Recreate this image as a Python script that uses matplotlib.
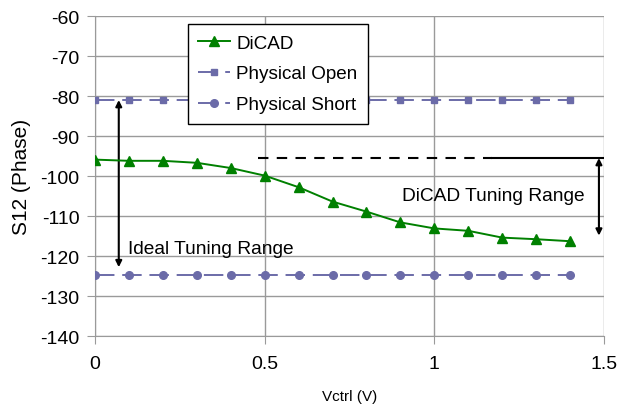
import matplotlib.pyplot as plt
import numpy as np

plt.rcParams['font.family'] = ['Liberation Sans', 'DejaVu Sans']
plt.rcParams['axes.unicode_minus'] = False

vctrl = [0, 0.1, 0.2, 0.3, 0.4, 0.5, 0.6, 0.7, 0.8, 0.9, 1.0, 1.1, 1.2, 1.3, 1.4]
dicad = [-95.9, -96.2, -96.2, -96.7, -98.0, -99.9, -102.8, -106.4,
         -108.9, -111.6, -113.1, -113.7, -115.4, -115.8, -116.3]
phys_open = [-81.0] * 15
phys_short = [-124.7] * 15

dicad_top = -95.5
dicad_bottom = -114.9
ideal_top = -81.0
ideal_bottom = -122.8

green = '#008000'
purple = '#6b6ba8'
grid = '#9a9a9a'

fig = plt.figure(figsize=(6.19, 4.10), dpi=100)
ax = fig.add_axes([0.1535, 0.178, 0.8223, 0.7805])

ax.plot(vctrl, dicad, color=green, lw=1.4, marker='^', ms=6.5, label='DiCAD', zorder=4)
ax.plot(vctrl, phys_open, color=purple, lw=1.4, ls=(0, (10, 4)), marker='s', ms=4,
        label='Physical Open', zorder=3)
ax.plot(vctrl, phys_short, color=purple, lw=1.4, ls=(0, (10, 4)), marker='o', ms=5.5,
        label='Physical Short', zorder=3)

# tuning range markers
ax.plot([0.48, 1.17], [dicad_top, dicad_top], color='black', lw=1.5, ls=(0, (5, 4)))
ax.plot([1.17, 1.5], [dicad_top, dicad_top], color='black', lw=1.5)
ax.annotate('', xy=(1.485, dicad_bottom), xytext=(1.485, dicad_top),
            arrowprops=dict(arrowstyle='<|-|>', color='black', lw=1.5,
                            mutation_scale=9, shrinkA=0, shrinkB=0))
ax.text(1.174, -104.8, 'DiCAD Tuning Range', fontsize=13.8, ha='center', va='center')

ax.annotate('', xy=(0.07, ideal_bottom), xytext=(0.07, ideal_top),
            arrowprops=dict(arrowstyle='<|-|>', color='black', lw=1.5,
                            mutation_scale=9, shrinkA=0, shrinkB=0))
ax.text(0.096, -118.1, 'Ideal Tuning Range', fontsize=13.8, ha='left', va='center')

ax.set_xlim(0, 1.5)
ax.set_ylim(-140, -60)
ax.set_xticks([0, 0.5, 1, 1.5])
ax.set_xticklabels(['0', '0.5', '1', '1.5'])
ax.set_yticks(np.arange(-140, -59, 10))
ax.grid(True, color=grid, lw=1)
ax.set_axisbelow(True)
for side in ['top', 'right']:
    ax.spines[side].set_visible(False)
for side in ['left', 'bottom']:
    ax.spines[side].set_color(grid)
ax.tick_params(colors=grid, labelcolor='black', labelsize=14, length=6)
ax.tick_params(axis='x', pad=8)
ax.tick_params(axis='y', pad=5)
ax.set_xlabel('Vctrl (V)', fontsize=11, labelpad=12)
ax.set_ylabel('S12 (Phase)', fontsize=15, labelpad=7)

leg = ax.legend(loc='upper left', bbox_to_anchor=(0.1827, 0.975), fontsize=13.6,
                frameon=True, fancybox=False, edgecolor='black', framealpha=1,
                handlelength=1.65, handletextpad=0.35, borderpad=0.55,
                labelspacing=0.72, borderaxespad=0)
leg.get_frame().set_linewidth(1)

fig.savefig('out.png', dpi=100)
